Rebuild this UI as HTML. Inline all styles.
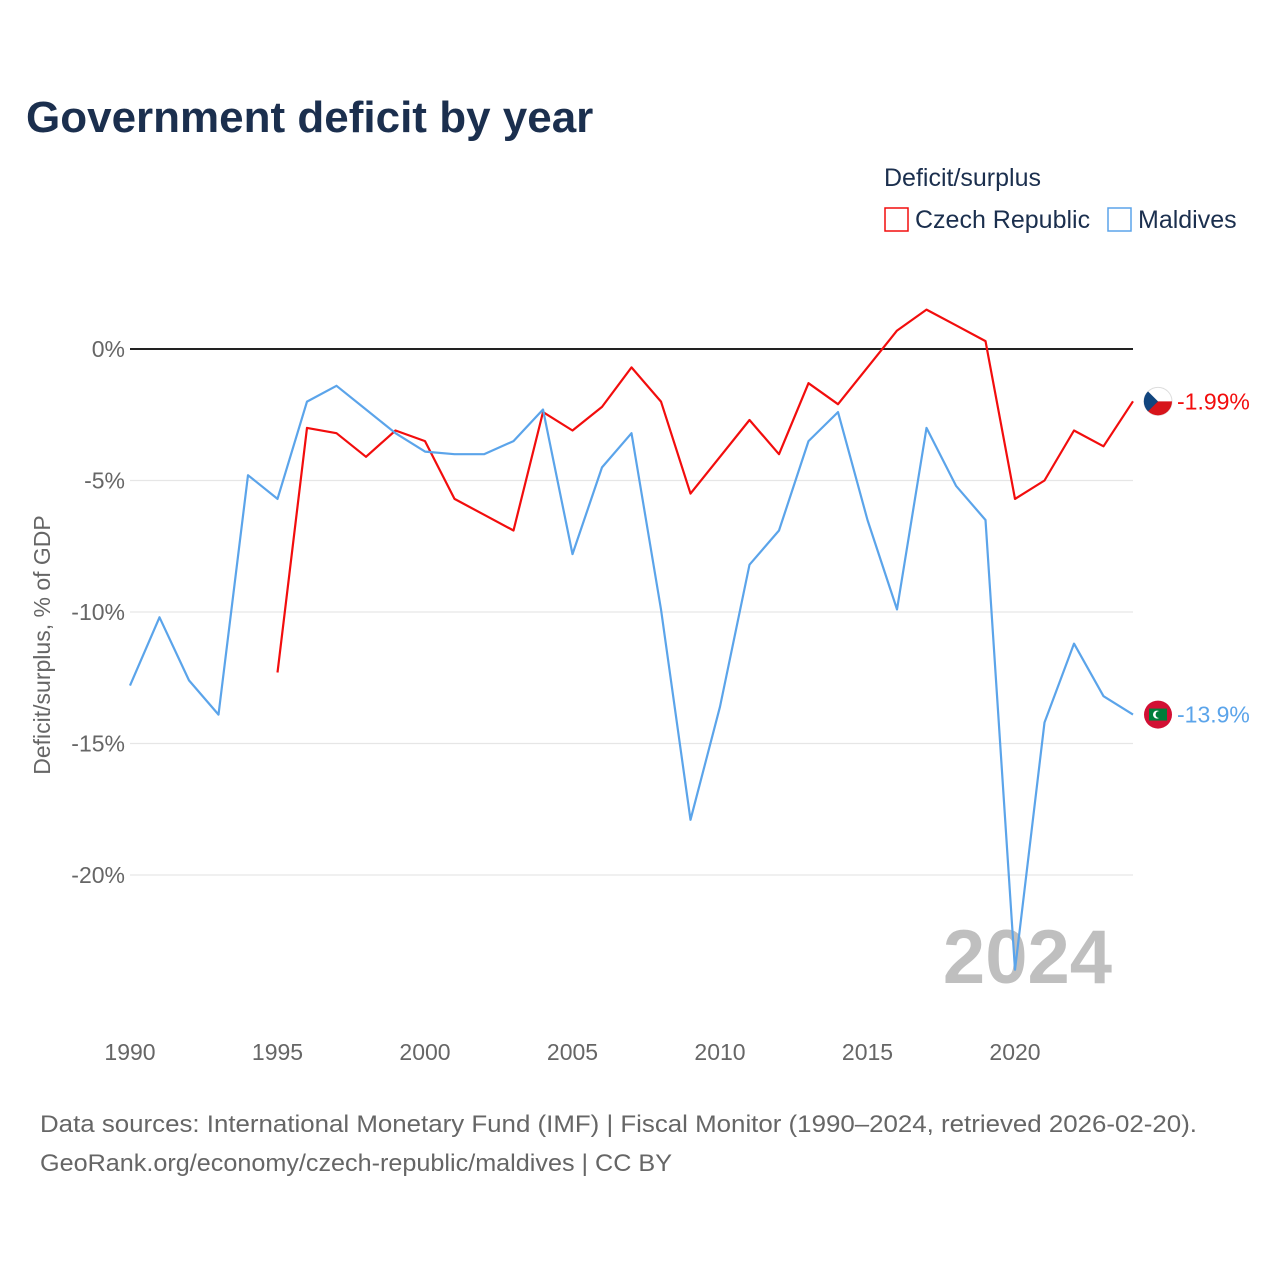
<!DOCTYPE html>
<html><head><meta charset="utf-8"><style>
body{margin:0;background:#fff;font-family:"Liberation Sans",sans-serif;}
</style></head><body>
<svg id="chart" width="1280" height="1280" xmlns="http://www.w3.org/2000/svg">
<rect width="1280" height="1280" fill="#fff"/>
<text x="26" y="132" font-size="44" font-weight="bold" fill="#1b2f4e">Government deficit by year</text>
<text x="884" y="186" font-size="25" fill="#1b2f4e">Deficit/surplus</text>
<g><rect x="885" y="208" width="23" height="23" fill="none" stroke="#f20d0d" stroke-width="1.5"/><text x="915" y="228" font-size="25" fill="#1b2f4e">Czech Republic</text></g>
<g><rect x="1108" y="208" width="23" height="23" fill="none" stroke="#5ba4ea" stroke-width="1.5"/><text x="1138" y="228" font-size="25" fill="#1b2f4e">Maldives</text></g>
<text transform="translate(50,645) rotate(-90)" text-anchor="middle" font-size="23" fill="#666">Deficit/surplus, % of GDP</text>
<text x="1112" y="983" text-anchor="end" font-size="76" font-weight="bold" fill="#bfbfbf">2024</text>
<g id="grid"></g><g id="series"></g>
<text x="40" y="1132" font-size="24" fill="#666" textLength="1157" lengthAdjust="spacingAndGlyphs">Data sources: International Monetary Fund (IMF) | Fiscal Monitor (1990–2024, retrieved 2026-02-20).</text>
<text x="40" y="1171" font-size="24" fill="#666" textLength="632" lengthAdjust="spacingAndGlyphs">GeoRank.org/economy/czech-republic/maldives | CC BY</text>
</svg>
<script>
const years=[1990,1991,1992,1993,1994,1995,1996,1997,1998,1999,2000,2001,2002,2003,2004,2005,2006,2007,2008,2009,2010,2011,2012,2013,2014,2015,2016,2017,2018,2019,2020,2021,2022,2023,2024];
const czech=[null,null,null,null,null,-12.3,-3.0,-3.2,-4.1,-3.1,-3.5,-5.7,-6.3,-6.9,-2.4,-3.1,-2.2,-0.7,-2.0,-5.5,-4.1,-2.7,-4.0,-1.3,-2.1,-0.7,0.7,1.5,0.9,0.3,-5.7,-5.0,-3.1,-3.7,-1.99];
const maldives=[-12.8,-10.2,-12.6,-13.9,-4.8,-5.7,-2.0,-1.4,-2.3,-3.2,-3.9,-4.0,-4.0,-3.5,-2.3,-7.8,-4.5,-3.2,-9.9,-17.9,-13.6,-8.2,-6.9,-3.5,-2.4,-6.5,-9.9,-3.0,-5.2,-6.5,-23.6,-14.2,-11.2,-13.2,-13.9];
const yTicks=[0,-5,-10,-15,-20];
const xTicks=[1990,1995,2000,2005,2010,2015,2020];
const X=y=>130+(y-1990)*(1133-130)/34;
const Y=v=>349-v*26.3;
const NS="http://www.w3.org/2000/svg";
const grid=document.getElementById('grid'),ser=document.getElementById('series');
function mk(tag,attrs,parent,text){const e=document.createElementNS(NS,tag);for(const k in attrs)e.setAttribute(k,attrs[k]);if(text!==undefined)e.textContent=text;parent.appendChild(e);return e;}
yTicks.forEach(t=>{
 const l=mk('line',{x1:130,x2:1133,y1:Y(t),y2:Y(t),stroke:t===0?'#222':'#e6e6e6','stroke-width':t===0?2:1.3},grid);
 
 
 const tx=mk('text',{x:125,y:Y(t)+8,'text-anchor':'end','font-size':23,fill:'#666'},grid,t+'%');
 
 
});
xTicks.forEach(t=>{
 const tx=mk('text',{x:X(t),y:1060,'text-anchor':'middle','font-size':23,fill:'#666'},grid,String(t));
 
 
});
function line(vals,color,name){
 let d='';vals.forEach((v,i)=>{if(v===null)return;d+=(d?'L':'M')+X(years[i]).toFixed(1)+','+Y(v).toFixed(1);});
 const p=mk('path',{d:d,fill:'none',stroke:color,'stroke-width':2.2,'stroke-linejoin':'round'},ser);
 
 
}
line(czech,'#f20d0d','czech-line');
line(maldives,'#5ba4ea','maldives-line');
function endLabel(v,color,name,flag){
 const cy=Y(v);
 const g=mk('g',{},ser);
 
 
 if(flag==='cz'){
  mk('circle',{cx:1158,cy:cy,r:14,fill:'#fff',stroke:'#ddd'},g);
  mk('path',{d:`M1144,${cy} A14,14 0 0 0 1172,${cy} Z`,fill:'#d7141a'},g);
  mk('path',{d:`M1148,${cy-10} L1158,${cy} L1148,${cy+10} A14,14 0 0 1 1148,${cy-10} Z`,fill:'#11457e'},g);
 }else{
  mk('circle',{cx:1158,cy:cy,r:14,fill:'#d21034'},g);
  mk('rect',{x:1149,y:cy-6,width:18,height:12,fill:'#007e3a'},g);
  mk('circle',{cx:1157,cy:cy,r:4,fill:'#fff'},g);
  mk('circle',{cx:1159,cy:cy,r:3.4,fill:'#007e3a'},g);
 }
 mk('text',{x:1177,y:cy+8,'font-size':23,fill:color},g,(name==='czech-end-label'?v.toFixed(2):v.toFixed(1))+'%');
}
endLabel(czech[czech.length-1],'#f20d0d','czech-end-label','cz');
endLabel(maldives[maldives.length-1],'#5ba4ea','maldives-end-label','mv');
</script>
</body></html>
